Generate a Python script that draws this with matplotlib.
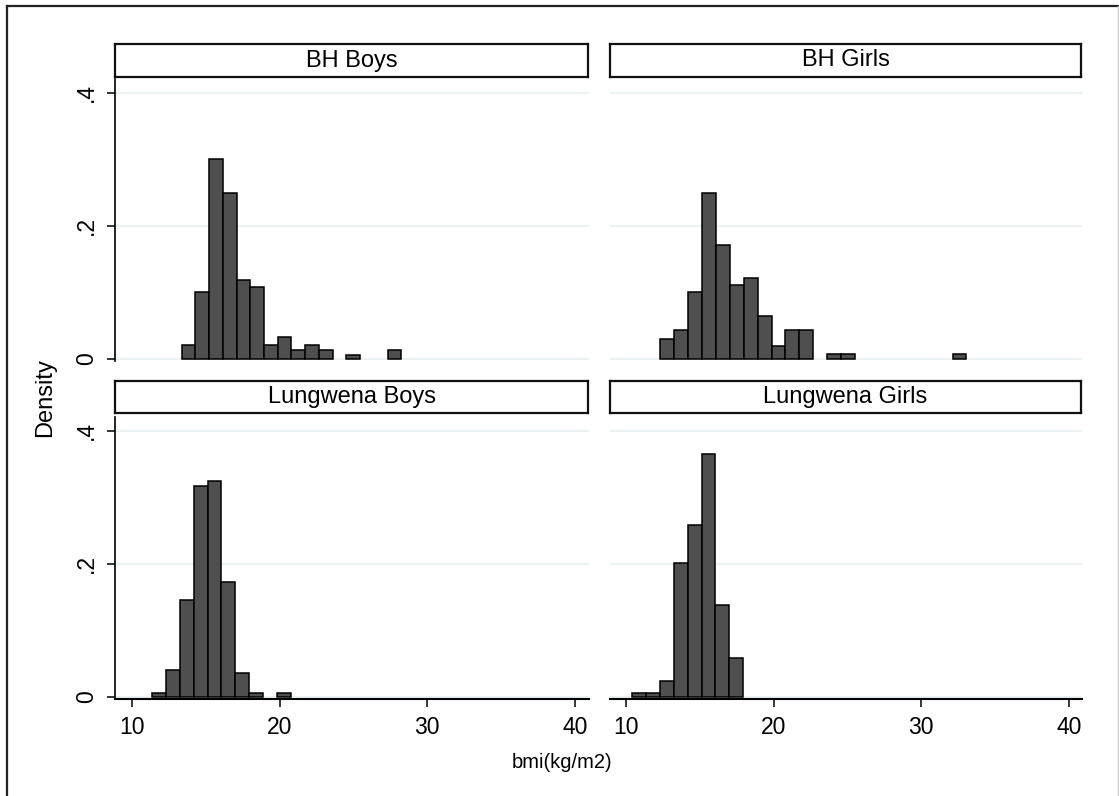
"""Histogramas de BMI por grupo (BH / Lungwena, meninos / meninas), estilo Stata."""
import matplotlib

matplotlib.use("Agg")
import matplotlib.pyplot as plt  # noqa: E402
from matplotlib.lines import Line2D  # noqa: E402

# dados: limite inferior do 1º bin, largura do bin, densidades
PANELS = ["BH Boys", "BH Girls", "Lungwena Boys", "Lungwena Girls"]

bh_boys_start, bh_boys_width = 13.36, 0.93
bh_boys_density = [0.0216, 0.1008, 0.3008, 0.249, 0.119, 0.109, 0.0216, 0.0326,
                   0.0135, 0.0216, 0.0135, 0.0, 0.0055, 0.0, 0.0, 0.0135]

bh_girls_start, bh_girls_width = 12.30, 0.944
bh_girls_density = [0.030, 0.0441, 0.1008, 0.249, 0.171, 0.1108, 0.1218, 0.0652,
                    0.019, 0.0441, 0.0441, 0.0, 0.008, 0.008, 0.0, 0.0, 0.0, 0.0,
                    0.0, 0.0, 0.0, 0.008]

lw_boys_start, lw_boys_width = 11.37, 0.937
lw_boys_density = [0.0064, 0.041, 0.146, 0.317, 0.325, 0.1725, 0.0357, 0.0064,
                   0.0, 0.0064]

lw_girls_start, lw_girls_width = 10.41, 0.94
lw_girls_density = [0.0064, 0.0064, 0.0248, 0.2018, 0.2583, 0.3654, 0.1378, 0.058]

HISTS = [
    (bh_boys_start, bh_boys_width, bh_boys_density),
    (bh_girls_start, bh_girls_width, bh_girls_density),
    (lw_boys_start, lw_boys_width, lw_boys_density),
    (lw_girls_start, lw_girls_width, lw_girls_density),
]

X_TICKS = [10, 20, 30, 40]
Y_TICKS = [0.0, 0.2, 0.4]
Y_TICKLABELS = ["0", ".2", ".4"]

BAR_COLOR = "#4f4f4f"
GRID_COLOR = "#eaf2f3"

plt.rcParams.update({"font.family": ["Liberation Sans", "DejaVu Sans"]})

W, H = 1119, 796
fig = plt.figure(figsize=(W / 100, H / 100), dpi=100)


def px(x0, y0, x1, y1):
    """Retângulo em pixels (origem no topo) -> coordenadas da figura."""
    return [x0 / W, 1 - y1 / H, (x1 - x0) / W, (y1 - y0) / H]


COLS = [(115, 589), (610, 1082)]
ROWS = [(79, 361), (417, 699)]
STRIPS = [(44, 77), (381, 413)]
XLIMS = [(8.85, 40.95), (8.9, 40.9)]

for k, (name, (start, width, dens)) in enumerate(zip(PANELS, HISTS)):
    r, c = divmod(k, 2)
    ax = fig.add_axes(px(COLS[c][0], ROWS[r][0], COLS[c][1], ROWS[r][1]))
    lefts = [start + i * width for i, d in enumerate(dens) if d > 0]
    heights = [d for d in dens if d > 0]
    ax.bar(lefts, heights, width=width, align="edge", color=BAR_COLOR,
           edgecolor="black", linewidth=1.1, zorder=3)
    ax.set_xlim(*XLIMS[c])
    ax.set_ylim(-0.003, 0.421)
    for y in Y_TICKS:
        ax.axhline(y, color=GRID_COLOR, linewidth=1.6, zorder=1)
    for s in ("top", "right"):
        ax.spines[s].set_visible(False)
    ax.set_yticks(Y_TICKS)
    if c == 0:
        ax.spines["left"].set_linewidth(1.2)
        ax.set_yticklabels(Y_TICKLABELS, rotation=90, va="center", fontsize=16.5)
        ax.tick_params(axis="y", length=6, width=1.1, pad=6)
    else:
        ax.spines["left"].set_visible(False)
        ax.tick_params(axis="y", left=False, labelleft=False)
    if r == 1:
        ax.spines["bottom"].set_linewidth(1.5)
        ax.set_xticks(X_TICKS)
        ax.tick_params(axis="x", length=6, width=1.1, pad=6, labelsize=16.5)
    else:
        ax.spines["bottom"].set_visible(False)
        ax.tick_params(axis="x", bottom=False, labelbottom=False)

    # faixa do título do painel
    sx = fig.add_axes(px(COLS[c][0], STRIPS[r][0], COLS[c][1] - 1, STRIPS[r][1]))
    sx.set_xticks([])
    sx.set_yticks([])
    for s in sx.spines.values():
        s.set_linewidth(1.6)
        s.set_color("#111111")
    sx.text(0.5, 0.5, name, ha="center", va="center", fontsize=17,
            transform=sx.transAxes)

fig.text(45 / W, 1 - 398 / H, "Density", rotation=90, ha="center", va="center",
         fontsize=17)
fig.text(562 / W, 1 - 763 / H, "bmi(kg/m2)", ha="center", va="center",
         fontsize=14.5)

# moldura externa (esquerda/topo escuras, direita clara)
fig.add_artist(Line2D([7 / W, 7 / W], [0, 1 - 6 / H], color="#222222", linewidth=1.6))
fig.add_artist(Line2D([7 / W, 1], [1 - 6 / H, 1 - 6 / H], color="#222222", linewidth=1.6))
fig.add_artist(Line2D([1118 / W, 1118 / W], [0, 1 - 6 / H], color="#cccccc", linewidth=1.0))

fig.savefig("out.png", dpi=100)
